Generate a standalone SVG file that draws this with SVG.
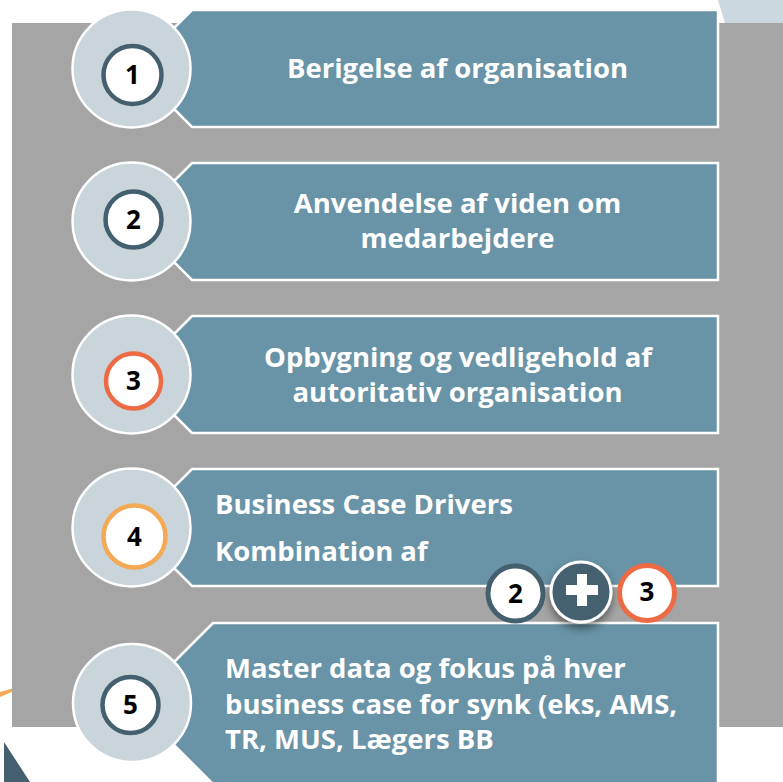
<svg xmlns="http://www.w3.org/2000/svg" width="783" height="782" viewBox="0 0 783 782">
<defs>
<style>
.banner{fill:#6993A6;stroke:#FFFFFF;stroke-width:2.5}
.outer{fill:#C9D4DB;stroke:#FFFFFF;stroke-width:2.5}
.inner{fill:#FFFFFF;stroke-width:4.5}
.num{font-family:"Open Sans","Noto Sans",sans-serif;font-weight:700;font-size:26px;fill:#000000;text-anchor:middle}
.lbl{font-family:"Open Sans","Noto Sans",sans-serif;font-weight:700;font-size:27.5px;fill:#FFFFFF}
.c{text-anchor:middle}
</style>
<filter id="sh" x="-50%" y="-50%" width="200%" height="200%">
<feDropShadow dx="0" dy="5" stdDeviation="4" flood-color="#000000" flood-opacity="0.45"/>
</filter>
</defs>
<rect width="783" height="782" fill="#FFFFFF"/>
<g id="background">
<polygon points="718,0 783,0 783,30 727,30" fill="#CBD8E0"/>
<polygon points="0,692 14,688 14,691 0,697" fill="#F4A955"/>
<polygon points="4,742 30,782 4,782" fill="#44606E"/>
<rect x="12" y="23" width="771" height="704" fill="#A5A5A5"/>
</g>
<g id="step1">
<polygon class="banner" points="192,10 718,10 718,127 192,127 133.5,68.5"/>
<circle class="outer" cx="131.5" cy="68.5" r="59"/>
<circle class="inner" cx="132.5" cy="75" r="29" stroke="#44606E"/>
<text class="num" x="132.5" y="84">1</text>
<text class="lbl c" x="457.5" y="78">Berigelse af organisation</text>
</g>
<g id="step2">
<polygon class="banner" points="192,163 718,163 718,280 192,280 133.5,221.5"/>
<circle class="outer" cx="131.5" cy="221.5" r="59"/>
<circle class="inner" cx="133.5" cy="219.5" r="28" stroke="#44606E"/>
<text class="num" x="133.5" y="228.5">2</text>
<text class="lbl c" x="457.5" y="213">Anvendelse af viden om</text>
<text class="lbl c" x="457.5" y="248">medarbejdere</text>
</g>
<g id="step3">
<polygon class="banner" points="192,316 718,316 718,433 192,433 133.5,374.5"/>
<circle class="outer" cx="131.5" cy="374.5" r="59"/>
<circle class="inner" cx="133.5" cy="381" r="27.5" stroke="#EC6B45"/>
<text class="num" x="133.5" y="390">3</text>
<text class="lbl c" x="458" y="367">Opbygning og vedligehold af</text>
<text class="lbl c" x="457.5" y="402">autoritativ organisation</text>
</g>
<g id="step4">
<polygon class="banner" points="192,469 718,469 718,586 192,586 133.5,527.5"/>
<circle class="outer" cx="131.5" cy="527.5" r="59"/>
<circle class="inner" cx="134.5" cy="536.5" r="31" stroke="#F4A955"/>
<text class="num" x="134.5" y="545.5">4</text>
<text class="lbl" x="215" y="514">Business Case Drivers</text>
<text class="lbl" x="215" y="561">Kombination af</text>
</g>
<g id="step5">
<polygon class="banner" points="213,623 718,623 718,784 213,784 132.5,703.5"/>
<circle class="outer" cx="132" cy="703" r="59"/>
<circle class="inner" cx="130.5" cy="705" r="28" stroke="#44606E"/>
<text class="num" x="130.5" y="714">5</text>
<text class="lbl" x="225" y="678">Master data og fokus på hver</text>
<text class="lbl" x="225" y="714">business case for synk (eks, AMS,</text>
<text class="lbl" x="225" y="749">TR, MUS, Lægers BB</text>
</g>
<g id="combo">
<g id="combo-2">
<circle cx="515.5" cy="593.5" r="27.5" fill="#FFFFFF" stroke="#44606E" stroke-width="5"/>
<text class="num" x="515.5" y="602.5">2</text>
</g>
<g id="combo-plus">
<circle cx="581" cy="592" r="30" fill="#44606E" stroke="#FFFFFF" stroke-width="3" filter="url(#sh)"/>
<path d="M577,574 h10 v11 h11 v10 h-11 v11 h-10 v-11 h-11 v-10 h11 z" fill="#FFFFFF"/>
</g>
<g id="combo-3">
<circle cx="647" cy="593" r="27.5" fill="#FFFFFF" stroke="#EC6B45" stroke-width="5"/>
<text class="num" x="647" y="600.5">3</text>
</g>
</g>
</svg>
